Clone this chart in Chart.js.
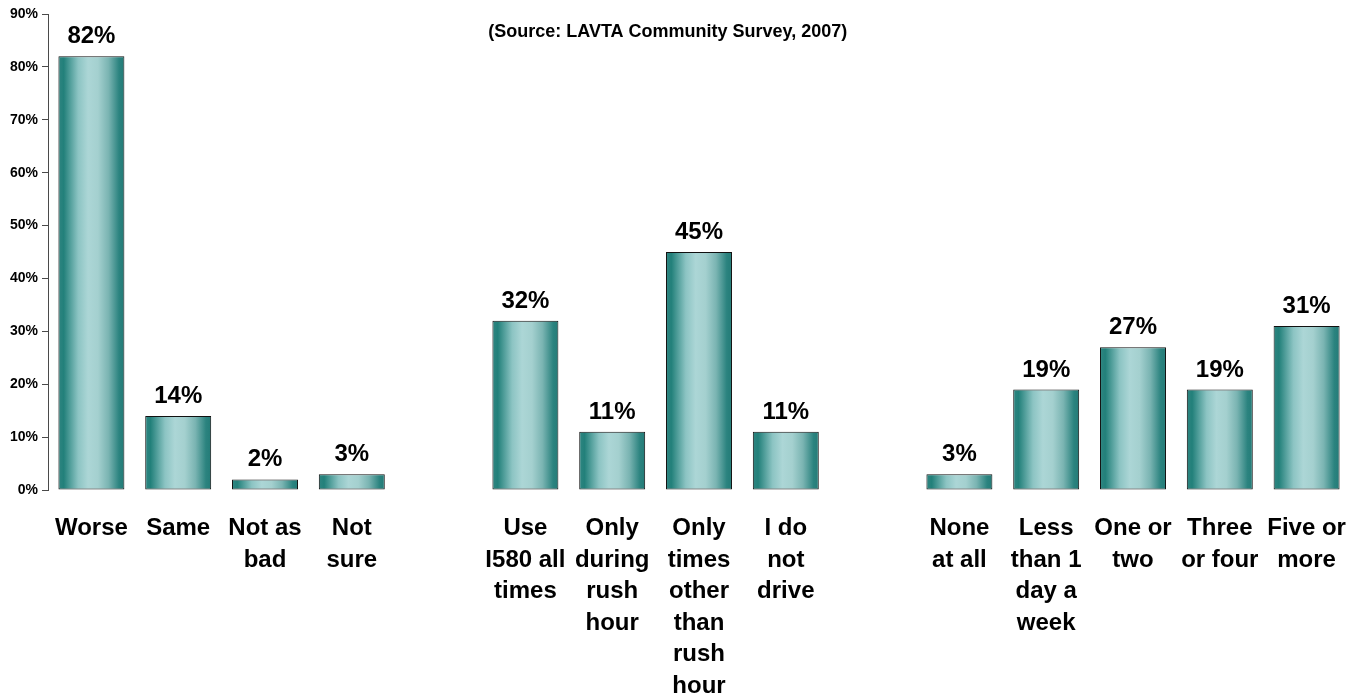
<!DOCTYPE html>
<html>
<head>
<meta charset="utf-8">
<title>I-580 commute survey</title>
<script src="https://cdn.jsdelivr.net/npm/chart.js@4.4.1/dist/chart.umd.min.js"></script>
<style>
  html, body { margin: 0; padding: 0; background: #ffffff; }
  #wrap { width: 1362px; height: 693px; position: relative; }
</style>
</head>
<body>
<div id="wrap"><canvas id="chart" width="1362" height="693"></canvas></div>
<script>
// Survey answers, three question groups separated by an empty slot
const categories = [
  ['Worse'], ['Same'], ['Not as', 'bad'], ['Not', 'sure'],
  [''],
  ['Use', 'I580 all', 'times'], ['Only', 'during', 'rush', 'hour'],
  ['Only', 'times', 'other', 'than', 'rush', 'hour'], ['I do', 'not', 'drive'],
  [''],
  ['None', 'at all'], ['Less', 'than 1', 'day a', 'week'], ['One or', 'two'],
  ['Three', 'or four'], ['Five or', 'more']
];
const percentValues = [82, 14, 2, 3, null, 32, 11, 45, 11, null, 3, 19, 27, 19, 31];
const yTicks = [0, 10, 20, 30, 40, 50, 60, 70, 80, 90];
const sourceNote = '(Source: LAVTA Community Survey, 2007)';

const FONT = "'Liberation Sans', Arial, Helvetica, sans-serif";
const BAR_PCT = 0.76;

// Horizontal cylinder-like shading, built per bar from the x scale
function barShade(context) {
  const chart = context.chart;
  const xs = chart.scales.x;
  if (context.type !== 'data' || !xs || !chart.chartArea) return '#8cc4c3';
  const cx = xs.getPixelForValue(context.dataIndex);
  const slot = xs.getPixelForValue(1) - xs.getPixelForValue(0);
  const half = slot * BAR_PCT / 2;
  if (!isFinite(cx) || !isFinite(half) || half <= 0) return '#8cc4c3';
  const g = chart.ctx.createLinearGradient(cx - half, 0, cx + half, 0);
  g.addColorStop(0.00, '#2f8581');
  g.addColorStop(0.08, '#22807a');
  g.addColorStop(0.30, '#8cc4c3');
  g.addColorStop(0.45, '#acd6d6');
  g.addColorStop(0.60, '#a4d0cf');
  g.addColorStop(0.76, '#7ab4b2');
  g.addColorStop(0.92, '#2b837f');
  g.addColorStop(1.00, '#237b77');
  return g;
}

// Percent labels over the bars and the source note
const annotate = {
  id: 'annotate',
  afterDatasetsDraw(chart) {
    const ctx = chart.ctx;
    const ds = chart.data.datasets[0];
    ctx.save();
    ctx.fillStyle = '#000000';
    ctx.font = 'bold 24px ' + FONT;
    ctx.textAlign = 'center';
    ctx.textBaseline = 'alphabetic';
    chart.getDatasetMeta(0).data.forEach((bar, i) => {
      const v = ds.data[i];
      if (v === null || v === undefined) return;
      ctx.fillText(v + '%', bar.x, bar.y - 13);
    });
    ctx.font = 'bold 18px ' + FONT;
    ctx.textBaseline = 'middle';
    const area = chart.chartArea;
    ctx.fillText(sourceNote, area.left + (area.right - area.left) * 0.476, area.top + 18);
    ctx.restore();
  }
};

new Chart(document.getElementById('chart'), {
  type: 'bar',
  data: {
    labels: categories,
    datasets: [{
      data: percentValues,
      backgroundColor: barShade,
      borderColor: '#111111',
      borderWidth: 1,
      borderSkipped: false,
      categoryPercentage: 1,
      barPercentage: BAR_PCT
    }]
  },
  options: {
    responsive: false,
    animation: false,
    devicePixelRatio: 1,
    layout: { padding: { top: 14, right: 12, left: 0, bottom: 0 } },
    plugins: {
      legend: { display: false },
      title: { display: false },
      tooltip: { enabled: false }
    },
    scales: {
      x: {
        grid: { display: false },
        border: { display: false },
        ticks: {
          color: '#000000',
          font: { family: FONT, size: 24, weight: 'bold', lineHeight: 1.31 },
          maxRotation: 0,
          minRotation: 0,
          autoSkip: false,
          padding: 15
        },
        afterFit(scale) { scale.height = 203; }
      },
      y: {
        min: 0,
        max: 90,
        afterBuildTicks(scale) { scale.ticks = yTicks.map(v => ({ value: v })); },
        grid: { drawOnChartArea: false, drawTicks: true, tickLength: 6, color: '#4a4a4a' },
        border: { display: true, color: '#4a4a4a', width: 1 },
        ticks: {
          color: '#000000',
          font: { family: FONT, size: 14, weight: 'bold' },
          padding: 4,
          callback: (v) => v + '%'
        },
        afterFit(scale) { scale.width = 48; }
      }
    }
  }
  ,plugins: [annotate]
});
</script>
</body>
</html>
